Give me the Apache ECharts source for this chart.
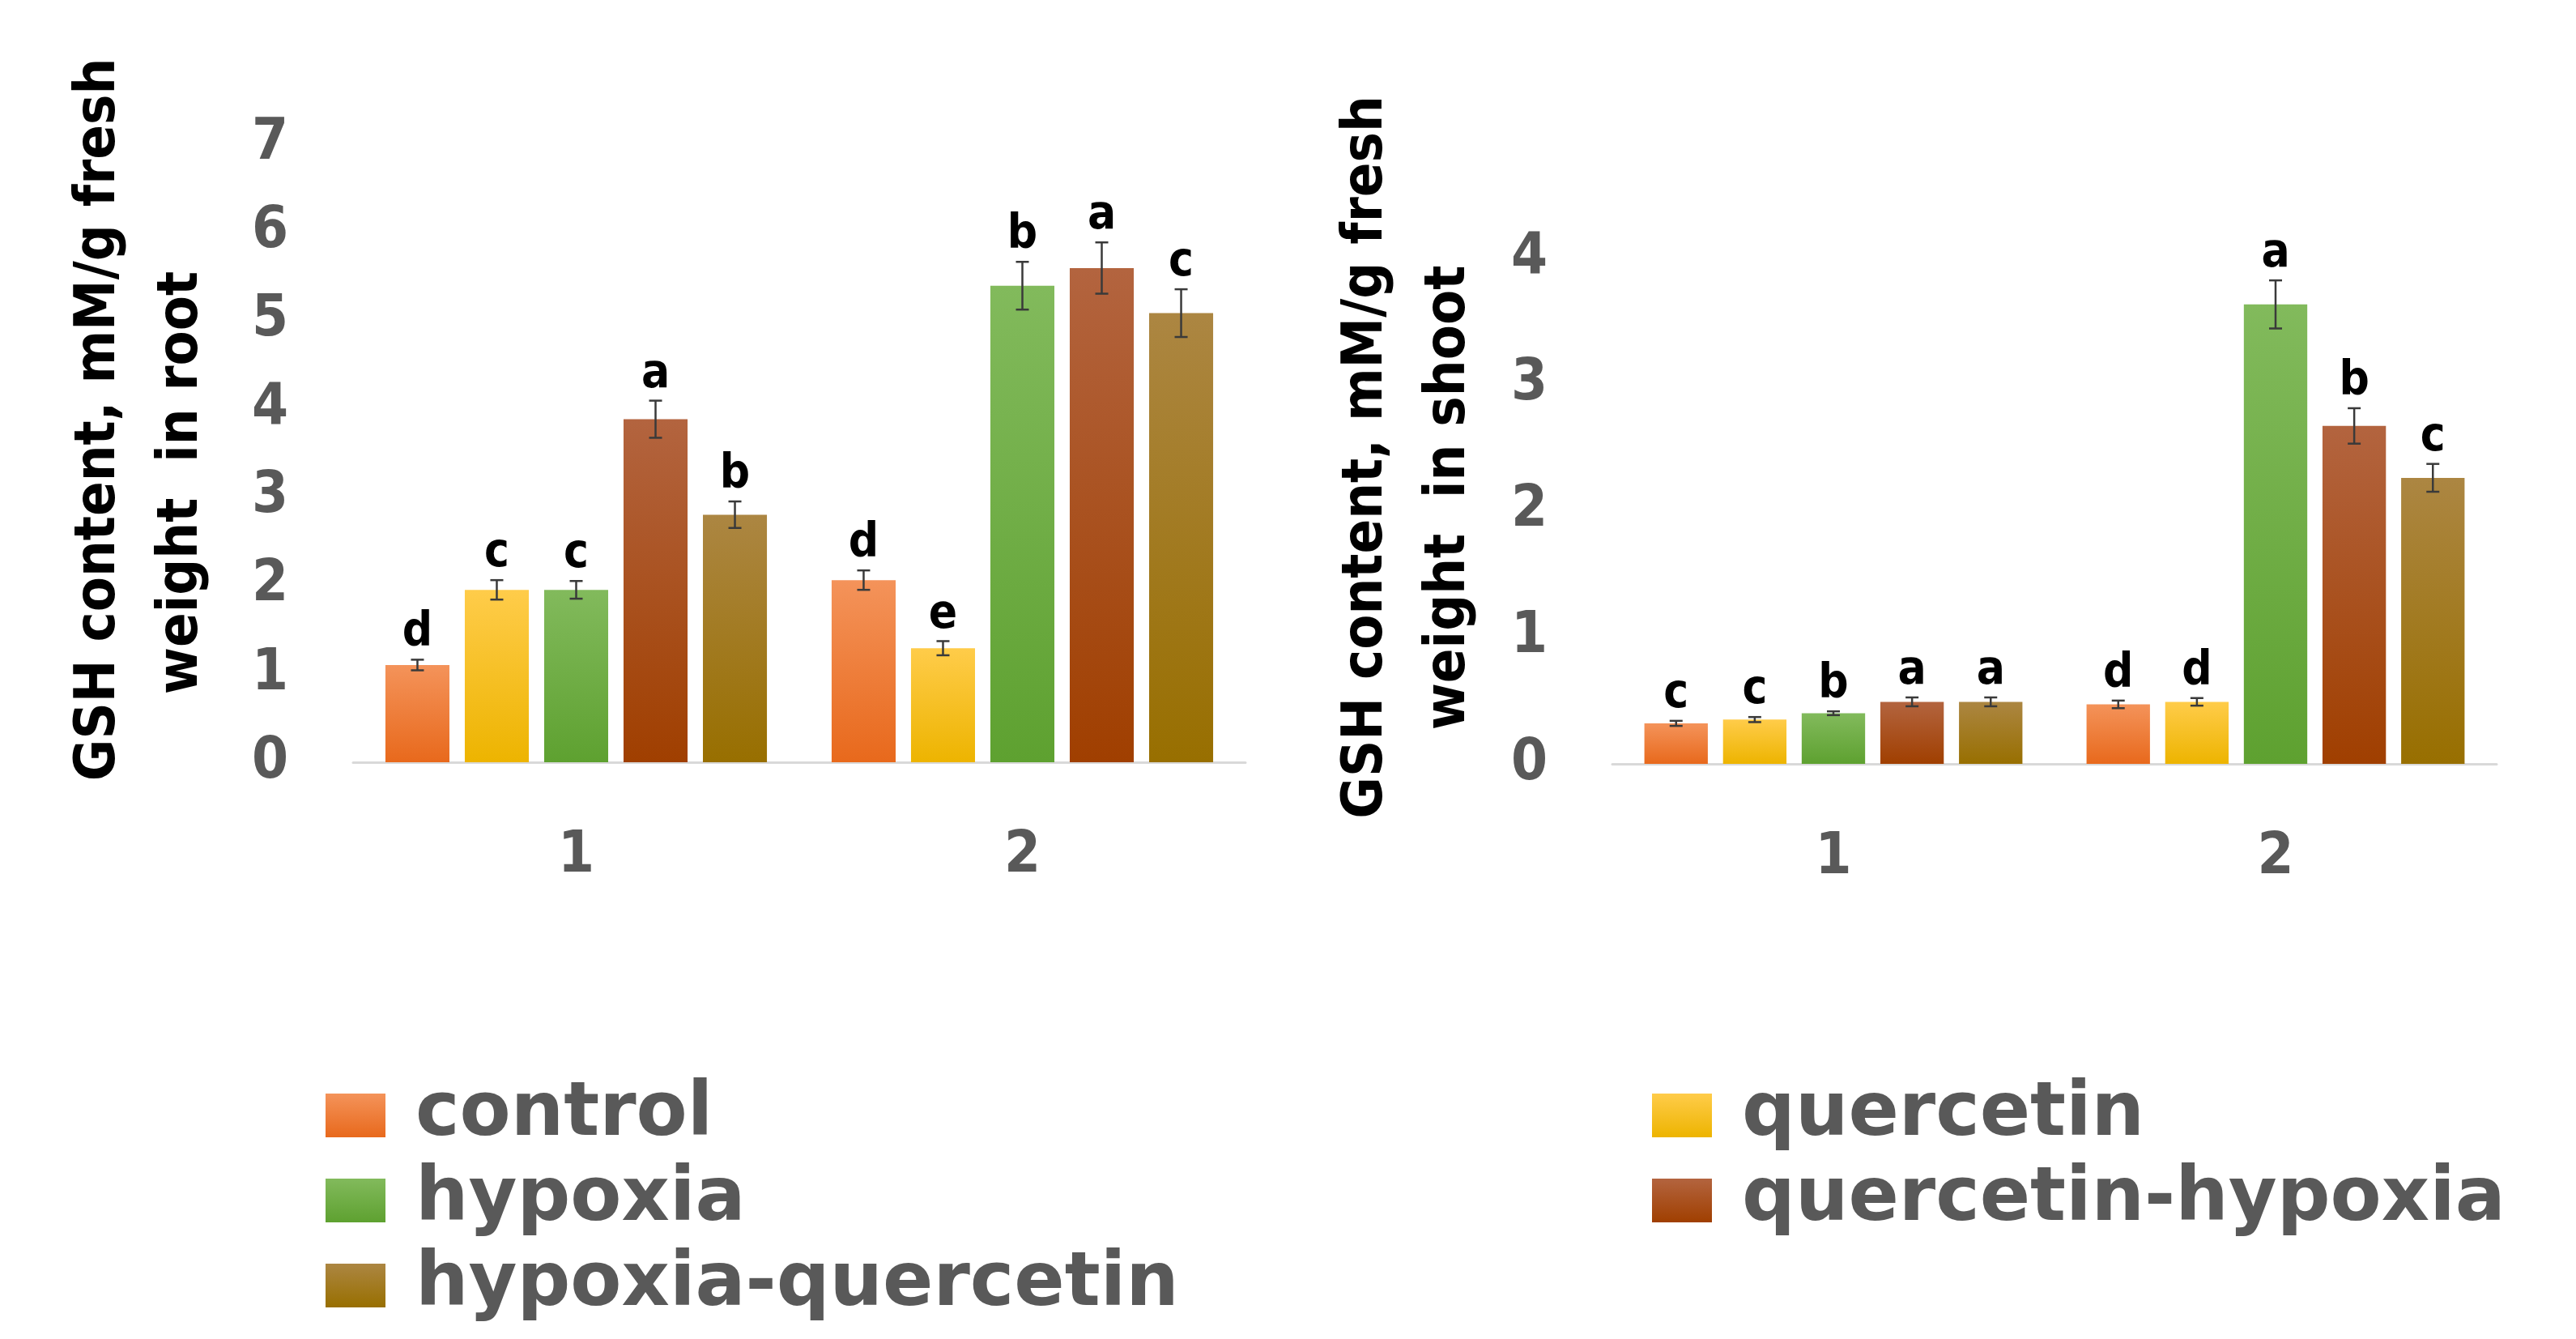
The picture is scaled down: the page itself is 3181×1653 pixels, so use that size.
<!DOCTYPE html>
<html>
<head>
<meta charset="utf-8">
<script src="https://cdn.jsdelivr.net/npm/echarts@6/dist/echarts.min.js"></script>
<style>
  html, body { margin: 0; padding: 0; background: #ffffff; }
  #chart { width: 3181px; height: 1653px; }
</style>
</head>
<body>
<div id="chart"></div>
<script>
// ---------- data ----------
const categories = ['1', '2'];
const seriesNames = ['control', 'quercetin', 'hypoxia', 'quercetin-hypoxia', 'hypoxia-quercetin'];

// root panel (per series, values for category 1 and 2)
const rootMeans   = [[1.10, 2.06], [1.95, 1.29], [1.95, 5.39], [3.88, 5.59], [2.80, 5.08]];
const rootErrors  = [[0.06, 0.11], [0.11, 0.08], [0.10, 0.27], [0.21, 0.29], [0.15, 0.27]];
const rootLetters = [['d', 'd'], ['c', 'e'], ['c', 'b'], ['a', 'a'], ['b', 'c']];
const rootTicks   = [0, 1, 2, 3, 4, 5, 6, 7];

// shoot panel
const shootMeans   = [[0.32, 0.47], [0.35, 0.49], [0.40, 3.63], [0.49, 2.67], [0.49, 2.26]];
const shootErrors  = [[0.02, 0.03], [0.02, 0.03], [0.015, 0.19], [0.035, 0.14], [0.035, 0.11]];
const shootLetters = [['c', 'd'], ['c', 'd'], ['b', 'a'], ['a', 'b'], ['a', 'c']];
const shootTicks   = [0, 1, 2, 3, 4];

const rootTitle  = ['GSH content, mM/g fresh', 'weight  in root'];
const shootTitle = ['GSH content, mM/g fresh', 'weight  in shoot'];

const legendLeftColumn  = ['control', 'hypoxia', 'hypoxia-quercetin'];
const legendRightColumn = ['quercetin', 'quercetin-hypoxia'];

// ---------- style ----------
const NARROW = '"Liberation Sans Narrow", "DejaVu Sans Condensed", "Liberation Sans", sans-serif';
const WIDE = '"DejaVu Sans", "Open Sans", sans-serif';
const colorStops = [
  ['#F4935A', '#E8691C'],
  ['#FFCC4A', '#EDB400'],
  ['#82BA5C', '#5EA130'],
  ['#B3643F', '#A03F00'],
  ['#AC8642', '#986F00']
];
const BAR_GAP = 0.24, CAT_GAP = 0.145;

function grad(stops) {
  return new echarts.graphic.LinearGradient(0, 0, 0, 1, [
    { offset: 0, color: stops[0] },
    { offset: 1, color: stops[1] }
  ]);
}

const chart = echarts.init(document.getElementById('chart'), null, { renderer: 'canvas' });

function barSeries(panel, means) {
  return seriesNames.map((name, s) => ({
    type: 'bar',
    name: name,
    xAxisIndex: panel,
    yAxisIndex: panel,
    data: means[s],
    barGap: (BAR_GAP * 100) + '%',
    barCategoryGap: (CAT_GAP * 100) + '%',
    itemStyle: { color: grad(colorStops[s]) },
    emphasis: { disabled: true },
    animation: false
  }));
}

function errorSeries(panel, means, errors, letters) {
  const data = [];
  for (let s = 0; s < seriesNames.length; s++) {
    for (let c = 0; c < categories.length; c++) {
      data.push([c, s, means[s][c], errors[s][c]]);
    }
  }
  return {
    type: 'custom',
    xAxisIndex: panel,
    yAxisIndex: panel,
    silent: true,
    animation: false,
    encode: { x: 0, y: 2 },
    data: data,
    z: 5,
    renderItem: function (params, api) {
      const c = api.value(0), s = api.value(1), v = api.value(2), e = api.value(3);
      const band = api.size([1, 0])[0];
      const usable = band * (1 - CAT_GAP);
      const bw = usable / (seriesNames.length + (seriesNames.length - 1) * BAR_GAP);
      const center = api.coord([c, v]);
      const x = center[0] - usable / 2 + s * bw * (1 + BAR_GAP) + bw / 2;
      const yT = api.coord([c, v + e])[1];
      const yB = api.coord([c, v - e])[1];
      const cap = 8;
      const ls = { stroke: '#3a3a3a', lineWidth: 2.5 };
      const letter = letters[s][c];
      return {
        type: 'group',
        children: [
          { type: 'line', shape: { x1: x, y1: yT, x2: x, y2: yB }, style: ls },
          { type: 'line', shape: { x1: x - cap, y1: yT, x2: x + cap, y2: yT }, style: ls },
          { type: 'line', shape: { x1: x - cap, y1: yB, x2: x + cap, y2: yB }, style: ls },
          {
            type: 'text',
            style: {
              text: letter, x: x, y: yT - 3,
              align: 'center', verticalAlign: 'bottom',
              font: 'bold 58px ' + NARROW, fill: '#000000'
            }
          }
        ]
      };
    }
  };
}

function yAxis(ticks, title, gap, padA, padB) {
  return {
    type: 'value',
    min: ticks[0],
    max: ticks[ticks.length - 1],
    interval: ticks[1] - ticks[0],
    axisLine: { show: false },
    axisTick: { show: false },
    splitLine: { show: false },
    axisLabel: {
      margin: 80,
      color: '#595959',
      fontFamily: NARROW,
      fontWeight: 'bold',
      fontSize: 72
    },
    name: '{a|' + title[0] + '}\n{b|' + title[1] + '}',
    nameLocation: 'middle',
    nameRotate: 90,
    nameGap: gap,
    nameTextStyle: {
      color: '#000000',
      fontFamily: NARROW,
      fontWeight: 'bold',
      fontSize: 70,
      lineHeight: 102,
      rich: {
        a: { fontFamily: NARROW, fontWeight: 'bold', fontSize: 70, lineHeight: 102, color: '#000', padding: padA },
        b: { fontFamily: NARROW, fontWeight: 'bold', fontSize: 70, lineHeight: 102, color: '#000', padding: padB }
      }
    }
  };
}

function xAxis() {
  return {
    type: 'category',
    data: categories,
    axisLine: { lineStyle: { color: '#D9D9D9', width: 3 } },
    axisTick: { show: false },
    splitLine: { show: false },
    axisLabel: {
      margin: 80,
      color: '#595959',
      fontFamily: NARROW,
      fontWeight: 'bold',
      fontSize: 72
    }
  };
}

const legendText = {
  color: '#595959',
  fontFamily: WIDE,
  fontWeight: 'bold',
  fontSize: 92
};

function legend(names, left) {
  return {
    data: names,
    orient: 'vertical',
    left: left, top: 1331,
    height: 322,
    padding: 0,
    icon: 'rect',
    itemWidth: 74, itemHeight: 54, itemGap: 13,
    formatter: function (n) { return ' ' + n; },
    textStyle: legendText,
    selectedMode: false
  };
}

const option = {
  backgroundColor: '#ffffff',
  animation: false,
  grid: [
    { left: 436, top: 177, width: 1102, height: 764, containLabel: false },
    { left: 1991, top: 318, width: 1092, height: 625, containLabel: false }
  ],
  xAxis: [Object.assign(xAxis(), { gridIndex: 0 }), Object.assign(xAxis(), { gridIndex: 1 })],
  yAxis: [
    Object.assign(yAxis(rootTicks, rootTitle, 160, [0, 0, 0, 82], [0, 74, 0, 0]), { gridIndex: 0 }),
    Object.assign(yAxis(shootTicks, shootTitle, 150, [0, 0, 0, 132], [0, 0, 0, 32]), { gridIndex: 1 })
  ],
  legend: [legend(legendLeftColumn, 402), legend(legendRightColumn, 2040)],
  series: [].concat(
    barSeries(0, rootMeans),
    [errorSeries(0, rootMeans, rootErrors, rootLetters)],
    barSeries(1, shootMeans),
    [errorSeries(1, shootMeans, shootErrors, shootLetters)]
  )
};

chart.setOption(option);
</script>
</body>
</html>
